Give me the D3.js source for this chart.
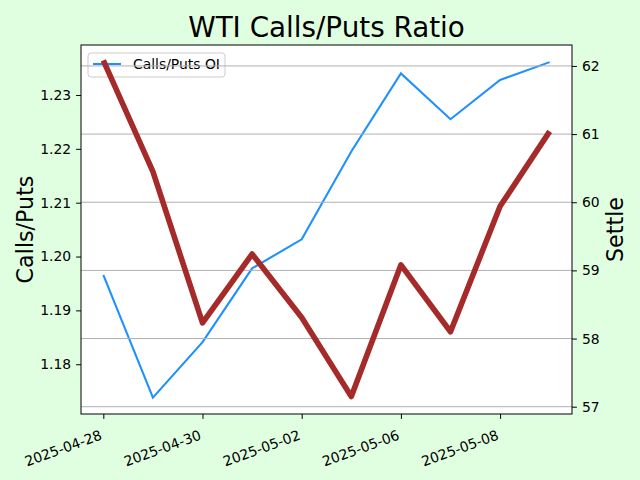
<!DOCTYPE html>
<html>
<head>
<meta charset="utf-8">
<script src="https://cdn.jsdelivr.net/npm/d3@7"></script>
<style>
  body { margin: 0; background: #e0ffe0; }
  svg { display: block; font-family: "DejaVu Sans", sans-serif; }
</style>
</head>
<body>
<div id="chart"></div>
<script>
// trading days, plotted one slot each
const dates = ["2025-04-28", "2025-04-29", "2025-04-30", "2025-05-01", "2025-05-02",
               "2025-05-05", "2025-05-06", "2025-05-07", "2025-05-08", "2025-05-09"];
const ratio = [1.1966, 1.1738, 1.1841, 1.1978, 1.2032, 1.2195, 1.2340, 1.2255, 1.2328, 1.2361];
const settle = [62.08, 60.45, 58.23, 59.24, 58.31, 57.15, 59.08, 58.10, 59.94, 61.04];
const dateTicks = ["2025-04-28", "2025-04-30", "2025-05-02", "2025-05-06", "2025-05-08"];
const ratioTicks = [1.18, 1.19, 1.20, 1.21, 1.22, 1.23];
const settleTicks = [57, 58, 59, 60, 61, 62];

const W = 640, H = 480;
const margin = { top: 45, right: 68, bottom: 66, left: 81 };
const width = W - margin.left - margin.right;
const height = H - margin.top - margin.bottom;

const svg = d3.select("#chart").append("svg")
    .attr("width", W)
    .attr("height", H);

svg.append("rect").attr("width", W).attr("height", H).attr("fill", "#e0ffe0");

const g = svg.append("g")
    .attr("transform", "translate(" + margin.left + "," + margin.top + ")");

g.append("rect").attr("width", width).attr("height", height).attr("fill", "#fff");

// x: index with 5% padding like matplotlib
const n = dates.length;
const pad = (n - 1) * 0.05;
const x = d3.scaleLinear().domain([-pad, n - 1 + pad]).range([0, width]);
const yL = d3.scaleLinear().domain([1.17076, 1.23928]).range([height, 0]);
const yR = d3.scaleLinear().domain([56.893, 62.307]).range([height, 0]);

// left series
const lineL = d3.line().x((d, i) => x(i)).y(d => yL(d));
g.append("path")
    .datum(ratio)
    .attr("fill", "none")
    .attr("stroke", "#1e90ff")
    .attr("stroke-width", 2.1)
    .attr("d", lineL);

// legend (belongs to the left axes, so under the grid)
const leg = g.append("g").attr("transform", "translate(7,8)");
leg.append("rect")
    .attr("width", 137).attr("height", 24).attr("rx", 3)
    .attr("fill", "#fff").attr("fill-opacity", 0.8)
    .attr("stroke", "#ccc").attr("stroke-width", 1);
leg.append("line")
    .attr("x1", 5).attr("x2", 33).attr("y1", 11).attr("y2", 11)
    .attr("stroke", "#1e90ff").attr("stroke-width", 2.1);
leg.append("text")
    .attr("x", 45).attr("y", 16)
    .attr("font-size", 13.9)
    .text("Calls/Puts OI");

// grid from the right axis
g.append("g")
    .selectAll("line")
    .data(settleTicks)
    .join("line")
    .attr("x1", 0).attr("x2", width)
    .attr("y1", d => yR(d)).attr("y2", d => yR(d))
    .attr("stroke", "#b0b0b0").attr("stroke-width", 1);

// right series
const lineR = d3.line().x((d, i) => x(i)).y(d => yR(d));
g.append("path")
    .datum(settle)
    .attr("fill", "none")
    .attr("stroke", "#a52a2a")
    .attr("stroke-width", 5.6)
    .attr("stroke-linejoin", "round")
    .attr("d", lineR);

// frame
g.append("rect")
    .attr("width", width).attr("height", height)
    .attr("fill", "none").attr("stroke", "#000").attr("stroke-width", 1);

// axes
const axL = g.append("g")
    .call(d3.axisLeft(yL).tickValues(ratioTicks).tickFormat(d3.format(".2f")).tickSize(4.9).tickPadding(5));
const axR = g.append("g")
    .attr("transform", "translate(" + width + ",0)")
    .call(d3.axisRight(yR).tickValues(settleTicks).tickFormat(d3.format("d")).tickSize(4.9).tickPadding(5));
const axB = g.append("g")
    .attr("transform", "translate(0," + height + ")")
    .call(d3.axisBottom(x)
        .tickValues(dateTicks.map(d => dates.indexOf(d)))
        .tickFormat(i => dates[i])
        .tickSize(4.9).tickPadding(5));

[axL, axR, axB].forEach(a => {
    a.select(".domain").remove();
    a.selectAll("text").attr("font-size", 13.9).attr("fill", "#000")
        .style("font-family", "DejaVu Sans");
    a.selectAll("line").attr("stroke", "#000");
});

axB.selectAll("text")
    .attr("text-anchor", "end")
    .attr("y", 0)
    .attr("dy", null)
    .attr("transform", "translate(-1,25) rotate(-20)");

// titles
svg.append("text")
    .attr("x", margin.left + width / 2).attr("y", 37)
    .attr("text-anchor", "middle")
    .attr("font-size", 27.8)
    .text("WTI Calls/Puts Ratio");

svg.append("text")
    .attr("transform", "translate(33," + (margin.top + height / 2) + ") rotate(-90)")
    .attr("text-anchor", "middle")
    .attr("font-size", 22.2)
    .text("Calls/Puts");

svg.append("text")
    .attr("transform", "translate(623," + (margin.top + height / 2) + ") rotate(-90)")
    .attr("text-anchor", "middle")
    .attr("font-size", 22.2)
    .text("Settle");
</script>
</body>
</html>
